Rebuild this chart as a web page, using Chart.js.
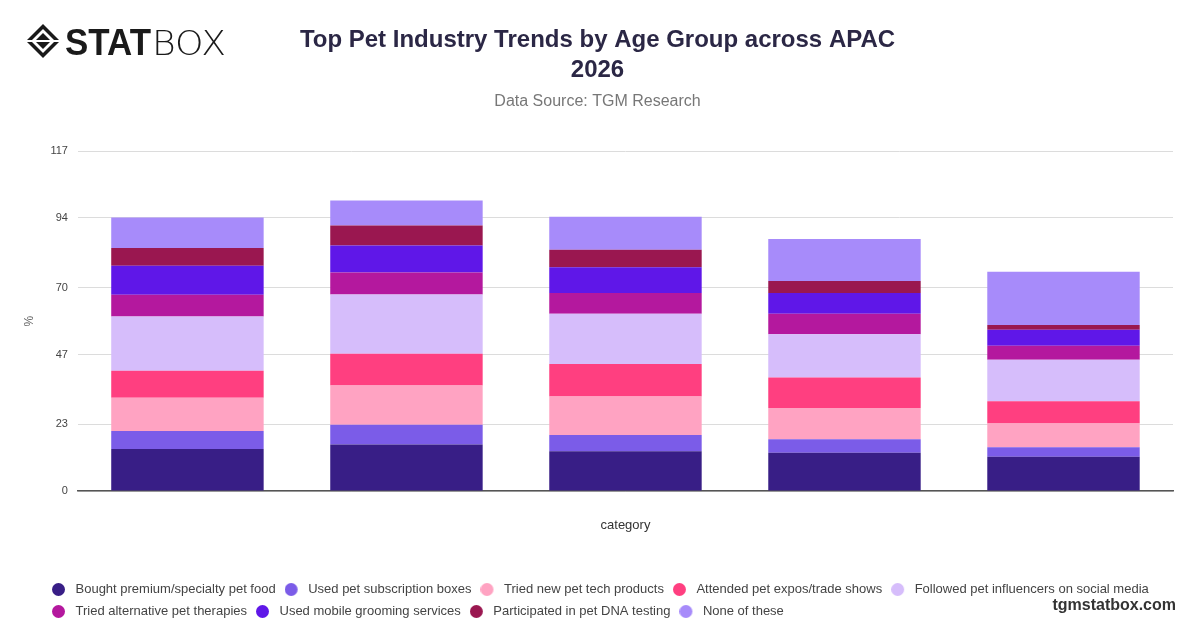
<!DOCTYPE html>
<html>
<head>
<meta charset="utf-8">
<script src="https://cdn.jsdelivr.net/npm/chart.js@4.4.1/dist/chart.umd.min.js"></script>
<style>
  html, body { margin: 0; padding: 0; background: #fff; }
  #wrap { position: relative; width: 1200px; height: 628px; }
  #logo { position: absolute; left: 25px; top: 22px; }
  #site { position: absolute; right: 24px; top: 596px; font: bold 16px "Liberation Sans", Arial, sans-serif; color: #333; }
</style>
</head>
<body>
<div id="wrap">
  <canvas id="chart" width="1200" height="628"></canvas>
  <svg id="logo" width="210" height="38" viewBox="0 0 210 38">
    <g transform="translate(18,19)">
      <polygon points="0,-17 17,0 0,17 -17,0" fill="#1a1a1a"/>
      <polygon points="0,-12 12,0 0,12 -12,0" fill="#fff"/>
      <polygon points="0,-8 8,0 0,8 -8,0" fill="#1a1a1a"/>
      <line x1="-17" y1="0" x2="17" y2="0" stroke="#fff" stroke-width="2"/>
    </g>
    <text x="40" y="33" font-family="Liberation Sans, Arial, sans-serif" font-size="36" font-weight="900" fill="#1a1a1a" textLength="86" lengthAdjust="spacingAndGlyphs">STAT</text>
    <text x="127" y="33" font-family="DejaVu Sans, sans-serif" font-size="33" font-weight="200" fill="#1a1a1a" textLength="74" lengthAdjust="spacingAndGlyphs">BOX</text>
  </svg>
  <div id="site">tgmstatbox.com</div>
</div>
<script>
const categories = ['', '', '', '', ''];
const seriesNames = [
  'Bought premium/specialty pet food',
  'Used pet subscription boxes',
  'Tried new pet tech products',
  'Attended pet expos/trade shows',
  'Followed pet influencers on social media',
  'Tried alternative pet therapies',
  'Used mobile grooming services',
  'Participated in pet DNA testing',
  'None of these'
];
const seriesColors = ['#381e86', '#7b5ce8', '#ffa3c2', '#ff3f80', '#d6bdfb', '#b4189e', '#5f17e8', '#9a1750', '#a78bfa'];

const premiumFood   = [14.5, 16.0, 13.7, 13.2, 11.8];
const subscription  = [6.2, 6.8, 5.6, 4.6, 3.3];
const petTech       = [11.4, 13.5, 13.2, 10.8, 8.1];
const expos         = [9.3, 11.0, 11.2, 10.5, 7.7];
const influencers   = [18.7, 20.4, 17.3, 14.9, 14.3];
const therapies     = [7.5, 7.5, 7.2, 7.0, 4.8];
const grooming      = [10.0, 9.3, 8.8, 7.2, 5.5];
const dnaTesting    = [6.1, 6.9, 6.1, 4.1, 1.7];
const noneOfThese   = [10.5, 8.6, 11.3, 14.5, 18.3];

const yTicks = [0, 23, 47, 70, 94, 117];

const seriesValues = [premiumFood, subscription, petTech, expos, influencers, therapies, grooming, dnaTesting, noneOfThese];
const font = "'Liberation Sans', Arial, sans-serif";

// round legend markers, drawn at the left of a 17px box
function makeDot(color) {
  const c = document.createElement('canvas');
  c.width = 17; c.height = 13;
  const g = c.getContext('2d');
  g.fillStyle = color;
  g.beginPath();
  g.arc(6.5, 6.5, 6.5, 0, Math.PI * 2);
  g.fill();
  return c;
}
const dots = seriesColors.map(makeDot);

// nudge the legend right, like the original
const legendShift = {
  id: 'legendShift',
  afterLayout(chart) {
    chart.legend.left += 21;
    chart.legend.right += 21;
  },
};

const ctx = document.getElementById('chart').getContext('2d');
new Chart(ctx, {
  type: 'bar',
  data: {
    labels: categories,
    datasets: seriesNames.map((name, i) => ({
      label: name,
      data: seriesValues[i],
      backgroundColor: seriesColors[i],
      borderWidth: 0,
      categoryPercentage: 0.8,
      barPercentage: 0.87,
    })),
  },
  plugins: [legendShift],
  options: {
    responsive: false,
    animation: false,
    layout: { padding: { left: 22, right: 27, top: 0, bottom: 0 } },
    plugins: {
      title: {
        display: true,
        text: ['Top Pet Industry Trends by Age Group across APAC', '2026'],
        color: '#2b2745',
        font: { family: font, size: 24, weight: 'bold', lineHeight: 1.25 },
        padding: { top: 25, bottom: 7 },
      },
      subtitle: {
        display: true,
        text: 'Data Source: TGM Research',
        color: '#777',
        font: { family: font, size: 16 },
        padding: { top: 0, bottom: 40 },
      },
      legend: {
        position: 'bottom',
        align: 'start',
        labels: {
          usePointStyle: true,
          pointStyleWidth: 17,
          boxHeight: 13,
          color: '#444',
          font: { family: font, size: 13 },
          padding: 9,
          generateLabels: (chart) =>
            Chart.defaults.plugins.legend.labels.generateLabels(chart).map((item, i) => ({ ...item, pointStyle: dots[i] })),
        },
      },
      tooltip: { enabled: false },
    },
    scales: {
      x: {
        stacked: true,
        grid: { display: false },
        border: { color: '#555', width: 1.5 },
        ticks: { padding: 0 },
        title: { display: true, text: 'category', color: '#333', font: { family: font, size: 13 }, padding: { top: 4, bottom: 41 } },
      },
      y: {
        stacked: true,
        min: 0,
        max: 117,
        afterBuildTicks: (axis) => { axis.ticks = yTicks.map(v => ({ value: v })); },
        grid: { color: '#dcdcdc', drawTicks: false },
        border: { display: false },
        ticks: { color: '#444', font: { family: font, size: 11 }, padding: 10 },
        title: { display: true, text: '%', color: '#666', font: { family: font, size: 12 }, padding: { top: 0, bottom: 4 } },
      },
    },
  },
});
</script>
</body>
</html>
